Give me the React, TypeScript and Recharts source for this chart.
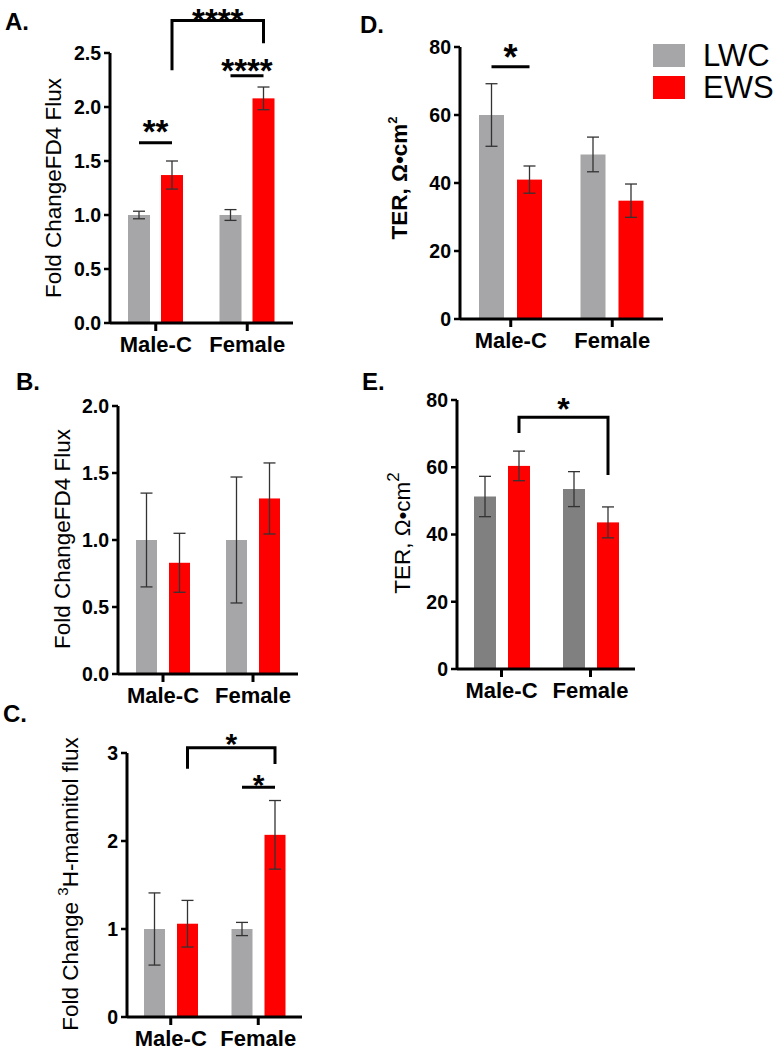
import React from "react"
import { Bar, BarChart, ErrorBar, Legend, XAxis, YAxis } from "recharts"

const FONT = '"Liberation Sans", Arial, sans-serif'
const RED = "#ff0000"
const LIGHT_GRAY = "#a6a6a8"
const DARK_GRAY = "#808080"

const categories = ["Male-C", "Female"]
const seriesNames = ["LWC", "EWS"]

// A. FD4 flux, fold change
const fd4ALwc = [1.0, 1.0]
const fd4ALwcErr = [0.035, 0.05]
const fd4AEws = [1.37, 2.08]
const fd4AEwsErr = [0.13, 0.105]
const ticksA = [0, 0.5, 1, 1.5, 2, 2.5]

// B. FD4 flux, fold change
const fd4BLwc = [1.0, 1.0]
const fd4BLwcErr = [0.35, 0.47]
const fd4BEws = [0.83, 1.31]
const fd4BEwsErr = [0.22, 0.265]
const ticksB = [0, 0.5, 1, 1.5, 2]

// C. 3H-mannitol flux, fold change
const mannitolLwc = [1.0, 1.0]
const mannitolLwcErr = [0.41, 0.075]
const mannitolEws = [1.06, 2.07]
const mannitolEwsErr = [0.265, 0.39]
const ticksC = [0, 1, 2, 3]

// D. TER
const terDLwc = [60, 48.4]
const terDLwcErr = [9.2, 5.1]
const terDEws = [41, 34.8]
const terDEwsErr = [4, 4.9]
const ticksD = [0, 20, 40, 60, 80]

// E. TER
const terELwc = [51.3, 53.5]
const terELwcErr = [6, 5.2]
const terEEws = [60.4, 43.6]
const terEEwsErr = [4.4, 4.6]
const ticksE = [0, 20, 40, 60, 80]

// significance marks, in y-axis units
type Pair = { at: string; line: number; text: string; textY: number }
type Bracket = { top: number; leftEnd: number; rightEnd: number; text: string; textY: number }

const pairsA: Pair[] = [
  { at: "Male-C", line: 1.67, text: "**", textY: 1.84 },
  { at: "Female", line: 2.29, text: "****", textY: 2.4 },
]
const bracketsA: Bracket[] = [{ top: 2.8, leftEnd: 2.34, rightEnd: 2.59, text: "****", textY: 2.87 }]
const pairsD: Pair[] = [{ at: "Male-C", line: 74.2, text: "*", textY: 79.1 }]
const bracketsE: Bracket[] = [{ top: 74.9, leftEnd: 70.2, rightEnd: 57.7, text: "*", textY: 79.3 }]
const pairsC: Pair[] = [{ at: "Female", line: 2.61, text: "*", textY: 2.72 }]
const bracketsC: Bracket[] = [{ top: 3.06, leftEnd: 2.82, rightEnd: 2.875, text: "*", textY: 3.18 }]

function buildRows(lwc: number[], lwcErr: number[], ews: number[], ewsErr: number[]) {
  return categories.map((group, i) => ({
    group,
    lwc: lwc[i],
    lwcErr: lwcErr[i],
    ews: ews[i],
    ewsErr: ewsErr[i],
  }))
}

function star(x: number, cy: number, text: string, size: number, key: string) {
  return (
    <text
      key={key}
      x={x}
      y={cy + size * 0.565}
      textAnchor="middle"
      fontSize={size}
      fontWeight={700}
      fontFamily={FONT}
      fill="#000"
    >
      {text}
    </text>
  )
}

// red bar shape that also draws the significance lines/brackets from the bar geometry
function makeRedShape(barGap: number, pairs: Pair[], brackets: Bracket[], starSize: number) {
  const centers: Record<string, number> = {}
  return (props: any) => {
    const { x, y, width, height, fill, payload } = props
    const value = payload.ews
    const base = y + height
    const toY = (v: number) => base - (v * height) / value
    const cx = x + width / 2
    centers[payload.group] = cx
    const grayCx = cx - width - barGap
    const marks: React.ReactNode[] = []

    pairs
      .filter((p) => p.at === payload.group)
      .forEach((p, i) => {
        const ly = toY(p.line)
        marks.push(<line key={`pl${i}`} x1={grayCx} x2={cx} y1={ly} y2={ly} stroke="#000" strokeWidth={3} />)
        marks.push(star((grayCx + cx) / 2, toY(p.textY), p.text, starSize, `ps${i}`))
      })

    if (payload.group === categories[categories.length - 1]) {
      const lx = centers[categories[0]]
      if (lx !== undefined) {
        brackets.forEach((b, i) => {
          const ty = toY(b.top)
          marks.push(
            <polyline
              key={`bk${i}`}
              points={`${lx},${toY(b.leftEnd)} ${lx},${ty} ${cx},${ty} ${cx},${toY(b.rightEnd)}`}
              fill="none"
              stroke="#000"
              strokeWidth={3}
              strokeLinejoin="miter"
            />
          )
          marks.push(star((lx + cx) / 2, toY(b.textY), b.text, starSize, `bs${i}`))
        })
      }
    }

    return (
      <g>
        <rect x={x} y={y} width={width} height={height} fill={fill} />
        {marks}
      </g>
    )
  }
}

function renderLegend(props: any) {
  const items = [...(props.payload || [])].sort(
    (a: any, b: any) => seriesNames.indexOf(a.value) - seriesNames.indexOf(b.value)
  )
  return (
    <div>
      {items.map((entry: any) => (
        <div key={entry.value} style={{ display: "flex", alignItems: "center", height: 23, marginBottom: 9 }}>
          <div style={{ width: 32, height: 23, background: entry.color }} />
          <span
            style={{
              marginLeft: 18,
              fontSize: 31,
              lineHeight: "23px",
              fontFamily: FONT,
              color: "#000",
            }}
          >
            {entry.value}
          </span>
        </div>
      ))}
    </div>
  )
}

interface PanelLayout {
  left: number
  top: number
  width: number
  height: number
  plot: { x0: number; x1: number; y0: number; y1: number }
  barSize: number
  barGap: number
  titleX: number
  titleY: number
}

interface PanelProps {
  layout: PanelLayout
  rows: ReturnType<typeof buildRows>
  ticks: number[]
  digits: number
  gray: string
  title: React.ReactNode
  titleSize: number
  titleBold?: boolean
  pairs?: Pair[]
  brackets?: Bracket[]
  starSize: number
  legend?: boolean
}

function Panel({
  layout,
  rows,
  ticks,
  digits,
  gray,
  title,
  titleSize,
  titleBold,
  pairs = [],
  brackets = [],
  starSize,
  legend,
}: PanelProps) {
  const { left, top, width, height, plot } = layout
  const redShape = React.useMemo(
    () => makeRedShape(layout.barGap, pairs, brackets, starSize),
    [layout.barGap, pairs, brackets, starSize]
  )
  const tcx = layout.titleX - left
  const tcy = layout.titleY - top

  return (
    <div style={{ position: "absolute", left, top, width, height }}>
      <BarChart
        width={width}
        height={height}
        data={rows}
        margin={{ top: plot.y0 - top, right: left + width - plot.x1, bottom: 0, left: 0 }}
        barSize={layout.barSize}
        barGap={layout.barGap}
      >
        <XAxis
          dataKey="group"
          height={top + height - plot.y1}
          interval={0}
          tickSize={8}
          tickMargin={5}
          axisLine={{ stroke: "#000", strokeWidth: 3 }}
          tickLine={{ stroke: "#000", strokeWidth: 3 }}
          tick={{ fill: "#000", fontSize: 22, fontWeight: 700, fontFamily: FONT }}
        />
        <YAxis
          width={plot.x0 - left}
          domain={[ticks[0], ticks[ticks.length - 1]]}
          ticks={ticks}
          interval={0}
          tickSize={6}
          tickMargin={3}
          tickFormatter={(v) => Number(v).toFixed(digits)}
          axisLine={{ stroke: "#000", strokeWidth: 3 }}
          tickLine={{ stroke: "#000", strokeWidth: 2.5 }}
          tick={{ fill: "#000", fontSize: 19.5, fontWeight: 700, fontFamily: FONT }}
          label={() => (
            <text
              x={tcx}
              y={tcy}
              transform={`rotate(-90 ${tcx} ${tcy})`}
              textAnchor="middle"
              fontSize={titleSize}
              fontWeight={titleBold ? 700 : 400}
              fontFamily={FONT}
              fill="#000"
            >
              {title}
            </text>
          )}
        />
        <Bar dataKey="lwc" name="LWC" fill={gray} isAnimationActive={false}>
          <ErrorBar dataKey="lwcErr" width={6} stroke="#333" strokeWidth={1.3} />
        </Bar>
        <Bar dataKey="ews" name="EWS" fill={RED} isAnimationActive={false} shape={redShape}>
          <ErrorBar dataKey="ewsErr" width={6} stroke="#333" strokeWidth={1.3} />
        </Bar>
        {legend && (
          <Legend
            layout="vertical"
            align="center"
            verticalAlign="middle"
            content={renderLegend}
            wrapperStyle={{ left: 653 - left, top: 44, width: 130 }}
          />
        )}
      </BarChart>
    </div>
  )
}

const layoutA: PanelLayout = {
  left: 0, top: 0, width: 310, height: 360,
  plot: { x0: 110, x1: 293, y0: 53, y1: 323 },
  barSize: 22, barGap: 11, titleX: 61, titleY: 188,
}
const layoutD: PanelLayout = {
  left: 378, top: 0, width: 402, height: 360,
  plot: { x0: 460, x1: 663, y0: 47, y1: 319 },
  barSize: 25, barGap: 13, titleX: 407, titleY: 178,
}
const layoutB: PanelLayout = {
  left: 0, top: 360, width: 310, height: 350,
  plot: { x0: 118, x1: 298, y0: 406, y1: 674 },
  barSize: 21, barGap: 12, titleX: 70, titleY: 539,
}
const layoutE: PanelLayout = {
  left: 378, top: 360, width: 312, height: 350,
  plot: { x0: 457, x1: 635, y0: 400, y1: 669 },
  barSize: 22, barGap: 12, titleX: 410, titleY: 533,
}
const layoutC: PanelLayout = {
  left: 0, top: 710, width: 310, height: 340,
  plot: { x0: 127, x1: 302, y0: 753, y1: 1017 },
  barSize: 21, barGap: 12, titleX: 78, titleY: 884,
}

const panelLetters = [
  { text: "A.", x: 5, y: 30 },
  { text: "D.", x: 360, y: 33 },
  { text: "B.", x: 16, y: 390 },
  { text: "E.", x: 362, y: 390 },
  { text: "C.", x: 3, y: 722 },
]

export default function App() {
  return (
    <div style={{ position: "absolute", left: 0, top: 0, width: 780, height: 1050, background: "#fff" }}>
      <Panel
        layout={layoutA}
        rows={buildRows(fd4ALwc, fd4ALwcErr, fd4AEws, fd4AEwsErr)}
        ticks={ticksA}
        digits={1}
        gray={LIGHT_GRAY}
        title="Fold ChangeFD4 Flux"
        titleSize={22.5}
        pairs={pairsA}
        brackets={bracketsA}
        starSize={33}
      />
      <Panel
        layout={layoutD}
        rows={buildRows(terDLwc, terDLwcErr, terDEws, terDEwsErr)}
        ticks={ticksD}
        digits={0}
        gray={LIGHT_GRAY}
        title={
          <>
            <tspan>TER, Ω•cm</tspan>
            <tspan dy={-10} fontSize={13}>2</tspan>
          </>
        }
        titleSize={22.5}
        titleBold
        pairs={pairsD}
        starSize={36}
        legend
      />
      <Panel
        layout={layoutB}
        rows={buildRows(fd4BLwc, fd4BLwcErr, fd4BEws, fd4BEwsErr)}
        ticks={ticksB}
        digits={1}
        gray={LIGHT_GRAY}
        title="Fold ChangeFD4 Flux"
        titleSize={22.5}
        starSize={34}
      />
      <Panel
        layout={layoutE}
        rows={buildRows(terELwc, terELwcErr, terEEws, terEEwsErr)}
        ticks={ticksE}
        digits={0}
        gray={DARK_GRAY}
        title={
          <>
            <tspan>TER, Ω•cm</tspan>
            <tspan dy={-11} fontSize={17}>2</tspan>
          </>
        }
        titleSize={22.5}
        brackets={bracketsE}
        starSize={32}
      />
      <Panel
        layout={layoutC}
        rows={buildRows(mannitolLwc, mannitolLwcErr, mannitolEws, mannitolEwsErr)}
        ticks={ticksC}
        digits={0}
        gray={LIGHT_GRAY}
        title={
          <>
            <tspan>Fold Change </tspan>
            <tspan dy={-10} fontSize={15}>3</tspan>
            <tspan dy={10}>H-mannitol flux</tspan>
          </>
        }
        titleSize={22.5}
        pairs={pairsC}
        brackets={bracketsC}
        starSize={30}
      />
      <svg
        width={780}
        height={1050}
        style={{ position: "absolute", left: 0, top: 0, pointerEvents: "none" }}
      >
        {panelLetters.map((p) => (
          <text key={p.text} x={p.x} y={p.y} fontSize={24} fontWeight={700} fontFamily={FONT} fill="#000">
            {p.text}
          </text>
        ))}
      </svg>
    </div>
  )
}
